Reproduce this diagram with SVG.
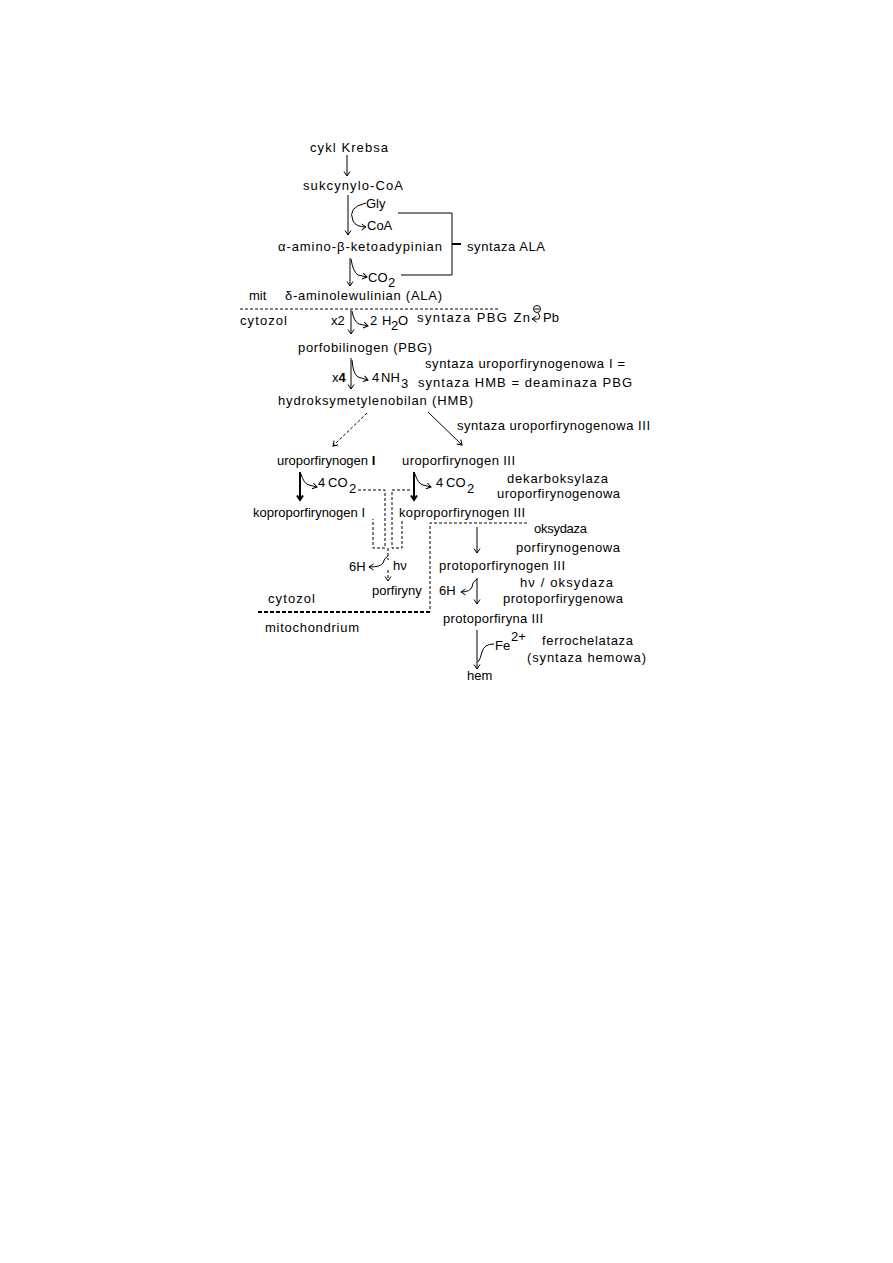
<svg xmlns="http://www.w3.org/2000/svg" width="893" height="1263" viewBox="0 0 893 1263">
<style>
text{font-family:"Liberation Sans",Arial,sans-serif;font-size:13px;fill:#000}
.b{font-weight:bold}
.ln{fill:none;stroke:#000;stroke-width:1}
.bold{fill:none;stroke:#000;stroke-width:2}
.ds{fill:none;stroke:#000;stroke-width:1;stroke-dasharray:3,2}
.ds2{fill:none;stroke:#000;stroke-width:2;stroke-dasharray:4,2}
.ar{marker-end:url(#ah)}
.arb{marker-end:url(#ahb)}
</style>
<defs>
<marker id="ah" markerUnits="userSpaceOnUse" markerWidth="10" markerHeight="10" refX="5" refY="5" orient="auto" viewBox="0 0 10 10">
<polyline points="0.5,2 5,5 0.5,8" fill="none" stroke="#000" stroke-width="1"/>
</marker>
<marker id="ahb" markerUnits="userSpaceOnUse" markerWidth="10" markerHeight="10" refX="5" refY="5" orient="auto" viewBox="0 0 10 10">
<polyline points="0.5,2 5,5 0.5,8" fill="none" stroke="#000" stroke-width="2"/>
</marker>
</defs>
<rect width="893" height="1263" fill="#fff"/>

<g id="connectors">
<line class="ln ar" x1="347" y1="155" x2="347" y2="176"/>
<line class="ln ar" x1="348" y1="195" x2="348" y2="235"/>
<path class="ln ar" d="M366 203 Q347 207 353 221 Q356 227 366 227"/>
<polyline class="ln" points="398,213 452,213 452,275 401,275"/>
<line class="bold" x1="452" y1="244" x2="461" y2="244"/>
<line class="ln ar" x1="350" y1="258" x2="350" y2="286"/>
<path class="ln ar" d="M351 259 Q353 272 358 275 L367 277"/>
<line class="ds" x1="240" y1="309" x2="500" y2="309"/>
<line class="ln ar" x1="351" y1="310" x2="351" y2="334"/>
<path class="ln ar" d="M352 311 Q354 322 359 324 L368 326"/>
<line class="ln ar" x1="351" y1="358" x2="351" y2="389"/>
<path class="ln ar" d="M352 360 Q353 374 358 377 L368 380"/>
<line class="ds ar" x1="367" y1="413" x2="333" y2="446"/>
<line class="ln ar" x1="428" y1="412" x2="462" y2="445"/>
<line class="bold arb" x1="300" y1="472" x2="300" y2="500"/>
<path class="ln ar" d="M301 474 Q304 484 309 485 L317 487"/>
<line class="bold arb" x1="414" y1="472" x2="414" y2="500"/>
<path class="ln ar" d="M415 474 Q418 484 423 485 L431 487"/>
<path class="ds" d="M358 490 L385 490 L385 548 L373 548 L373 519"/>
<path class="ds" d="M410 490 L392 490 L392 548 L402 548 L402 519"/>
<line class="ds" x1="388" y1="548" x2="388" y2="560"/>
<path class="ln ar" d="M388 556 Q384 558 383 563 Q381 567 369 567"/>
<line class="ds ar" x1="388" y1="570" x2="388" y2="581"/>
<path class="ds" d="M527 523 L430 523 L430 612"/>
<line class="ds2" x1="258" y1="612" x2="430" y2="612"/>
<line class="ln ar" x1="477" y1="527" x2="477" y2="553"/>
<line class="ln ar" x1="477" y1="578" x2="477" y2="604"/>
<path class="ln ar" d="M477 579 Q472 582 472 587 Q470 592 461 592"/>
<line class="ln ar" x1="477" y1="630" x2="477" y2="669"/>
<path class="ln" d="M494 644 Q484 644 482 652 Q480 660 478 662"/>
<circle class="ln" cx="537" cy="309" r="3.5"/>
<line class="ln" x1="534.5" y1="309" x2="539.5" y2="309"/>
<path class="ln ar" d="M538 313 Q541 316 539 319 L532 319"/>
</g>

<g id="n-krebs"><text x="310" y="152" textLength="78">cykl Krebsa</text></g>
<g id="n-sukcynylo"><text x="303" y="190" textLength="100">sukcynylo-CoA</text></g>
<g id="n-gly"><text x="366" y="208">Gly</text></g>
<g id="n-coa"><text x="367" y="230">CoA</text></g>
<g id="n-amino"><text x="278" y="251" textLength="164">α-amino-β-ketoadypinian</text></g>
<g id="n-syntazaALA"><text x="467" y="251" textLength="78">syntaza ALA</text></g>
<g id="n-co2a"><text x="368" y="282">CO</text><text x="388" y="287">2</text></g>
<g id="n-ala"><text x="285" y="300" textLength="157">δ-aminolewulinian (ALA)</text></g>
<g id="n-mit"><text x="249" y="300">mit</text></g>
<g id="n-cytozol1"><text x="240" y="325" textLength="47">cytozol</text></g>
<g id="n-x2"><text x="331" y="325">x2</text></g>
<g id="n-h2o"><text x="370" y="325">2</text><text x="382" y="325">H</text><text x="391" y="330">2</text><text x="398" y="325">O</text></g>
<g id="n-syntazaPBG"><text x="417" y="322" textLength="113">syntaza PBG Zn</text><text x="543" y="322">Pb</text></g>
<g id="n-pbg"><text x="298" y="352" textLength="134">porfobilinogen (PBG)</text></g>
<g id="n-x4"><text x="332" y="382">x<tspan class="b">4</tspan></text></g>
<g id="n-nh3"><text x="372" y="382">4</text><text x="381" y="382">NH</text><text x="401" y="388">3</text></g>
<g id="n-syntazaI"><text x="425" y="368" textLength="200">syntaza uroporfirynogenowa I =</text><text x="418" y="387" textLength="214">syntaza HMB = deaminaza PBG</text></g>
<g id="n-hmb"><text x="278" y="405" textLength="195">hydroksymetylenobilan (HMB)</text></g>
<g id="n-syntazaIII"><text x="457" y="430" textLength="193">syntaza uroporfirynogenowa III</text></g>
<g id="n-uroI"><text x="277" y="465">uroporfirynogen <tspan class="b">I</tspan></text></g>
<g id="n-uroIII"><text x="402" y="465" textLength="113">uroporfirynogen III</text></g>
<g id="n-co2b"><text x="318" y="487">4</text><text x="328" y="487">CO</text><text x="349" y="493">2</text></g>
<g id="n-co2c"><text x="436" y="487">4</text><text x="446" y="487">CO</text><text x="467" y="493">2</text></g>
<g id="n-dekarb"><text x="507" y="483" textLength="101">dekarboksylaza</text><text x="497" y="498" textLength="123">uroporfirynogenowa</text></g>
<g id="n-koproI"><text x="253" y="517" textLength="112">koproporfirynogen I</text></g>
<g id="n-koproIII"><text x="399" y="517" textLength="126">koproporfirynogen III</text></g>
<g id="n-oksydaza"><text x="534" y="533" textLength="53">oksydaza</text><text x="516" y="552" textLength="104">porfirynogenowa</text></g>
<g id="n-6h1"><text x="349" y="571">6H</text></g>
<g id="n-hv1"><text x="393" y="570">hν</text></g>
<g id="n-porfiryny"><text x="372" y="595">porfiryny</text></g>
<g id="n-protogen"><text x="439" y="570" textLength="126">protoporfirynogen III</text></g>
<g id="n-6h2"><text x="439" y="595">6H</text></g>
<g id="n-hvoks"><text x="520" y="587" textLength="93">hν / oksydaza</text><text x="503" y="603" textLength="120">protoporfirygenowa</text></g>
<g id="n-cytozol2"><text x="268" y="603" textLength="47">cytozol</text></g>
<g id="n-mito"><text x="265" y="632" textLength="94">mitochondrium</text></g>
<g id="n-protoIII"><text x="443" y="623" textLength="100">protoporfiryna III</text></g>
<g id="n-fe"><text x="495" y="650">Fe</text><text x="511" y="641">2+</text></g>
<g id="n-ferro"><text x="542" y="645" textLength="91">ferrochelataza</text><text x="527" y="662" textLength="119">(syntaza hemowa)</text></g>
<g id="n-hem"><text x="467" y="680">hem</text></g>
</svg>
